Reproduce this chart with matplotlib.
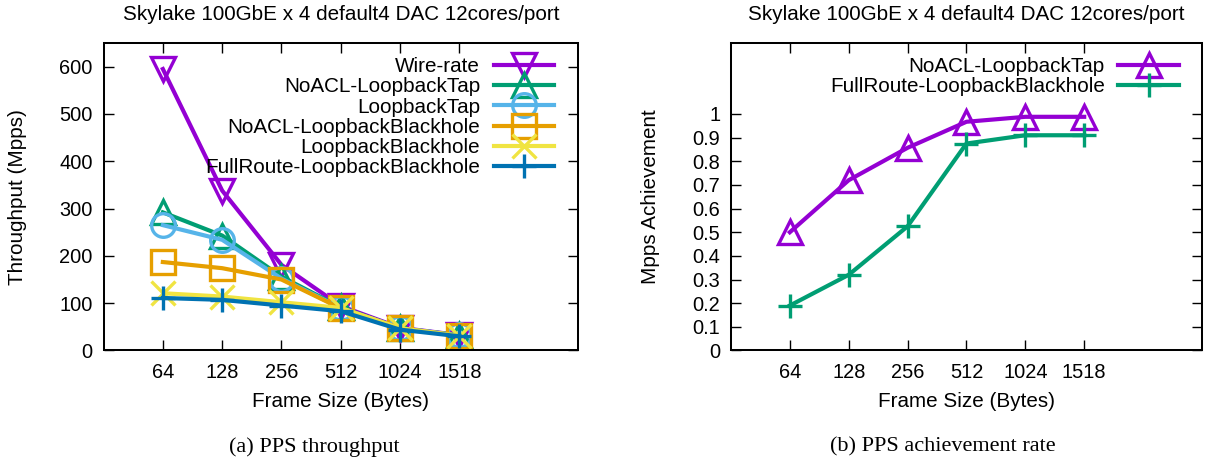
import matplotlib
matplotlib.use("Agg")
import matplotlib.pyplot as plt

plt.rcParams['font.family'] = ['Liberation Sans', 'DejaVu Sans']

frame_sizes = ["64", "128", "256", "512", "1024", "1518"]

# throughput (Mpps)
wire_rate = [595, 338, 181, 94, 48, 32.5]
noacl_tap = [292, 243, 156, 91, 47, 32]
loopback_tap = [265, 234, 152, 90, 47, 32]
noacl_blackhole = [187, 174, 150, 89, 47, 31]
loopback_blackhole = [121, 114, 102, 90, 47, 31]
fullroute_blackhole = [111, 107, 95, 83, 44, 30]

# achievement ratio vs wire rate
ach_noacl_tap = [0.50, 0.72, 0.857, 0.967, 0.988, 0.988]
ach_fullroute = [0.19, 0.32, 0.525, 0.875, 0.91, 0.91]

title = "Skylake 100GbE x 4 default4 DAC 12cores/port"

purple = "#9400d3"
green = "#009e73"
skyblue = "#56b4e9"
orange = "#e69f00"
yellow = "#f0e442"
blue = "#0072b2"

fig = plt.figure(figsize=(12.07, 4.63), dpi=100)
ax1 = fig.add_axes([0.0858, 0.2430, 0.3931, 0.6641])
ax2 = fig.add_axes([0.6056, 0.2430, 0.3902, 0.6641])

x = list(range(len(frame_sizes)))
lw = 3.0
ms = 17
mew = 2.4
fs = 14.9
tick_fs = 14.4

series_left = [
    (wire_rate, "Wire-rate", purple, "v", True),
    (noacl_tap, "NoACL-LoopbackTap", green, "^", True),
    (loopback_tap, "LoopbackTap", skyblue, "o", True),
    (noacl_blackhole, "NoACL-LoopbackBlackhole", orange, "s", True),
    (loopback_blackhole, "LoopbackBlackhole", yellow, "x", False),
    (fullroute_blackhole, "FullRoute-LoopbackBlackhole", blue, "+", False),
]
for vals, label, col, mk, hollow in series_left:
    ax1.plot(x, vals, color=col, lw=lw, marker=mk, ms=ms, mew=mew,
             mfc="none" if hollow else col, label=label)

ax2.plot(x, ach_noacl_tap, color=purple, lw=lw, marker="^", ms=ms, mew=mew,
         mfc="none", label="NoACL-LoopbackTap")
ax2.plot(x, ach_fullroute, color=green, lw=lw, marker="+", ms=ms, mew=mew,
         label="FullRoute-LoopbackBlackhole")

ax1.set_ylim(0, 650)
ax1.set_yticks(range(0, 700, 100))
ax1.set_ylabel("Throughput (Mpps)", fontsize=fs, labelpad=23.5)

ax2.set_ylim(0, 1.3)
ax2.set_yticks([i / 10 for i in range(11)])
ax2.set_yticklabels(["0", "0.1", "0.2", "0.3", "0.4", "0.5", "0.6", "0.7", "0.8", "0.9", "1"])
ax2.set_ylabel("Mpps Achievement", fontsize=fs, labelpad=23.5)

for ax, anchor_x in ((ax1, 0.9494), (ax2, 0.951)):
    ax.set_xlim(-1, 7)
    ax.set_xticks(x)
    ax.set_xticklabels(frame_sizes)
    ax.set_xlabel("Frame Size (Bytes)", fontsize=fs, labelpad=7.4)
    ax.set_title(title, fontsize=fs, pad=16.5)
    ax.tick_params(direction="in", length=7.2, width=1.0, labelsize=tick_fs,
                   top=True, right=True)
    ax.tick_params(axis="x", pad=9)
    ax.tick_params(axis="y", pad=7.8)
    for sp in ax.spines.values():
        sp.set_linewidth(1.45)
    ax.legend(loc="upper right", bbox_to_anchor=(anchor_x, 0.954), frameon=False,
              markerfirst=False, numpoints=1, fontsize=fs, handlelength=2.92,
              handletextpad=0.65, labelspacing=0.06, borderpad=0, borderaxespad=0)

fig.text(0.2601, 0.024, "(a) PPS throughput", family="Liberation Serif",
         fontsize=16, ha="center", va="baseline")
fig.text(0.7813, 0.024, "(b) PPS achievement rate", family="Liberation Serif",
         fontsize=16, ha="center", va="baseline")

fig.savefig("out.png", dpi=100)
